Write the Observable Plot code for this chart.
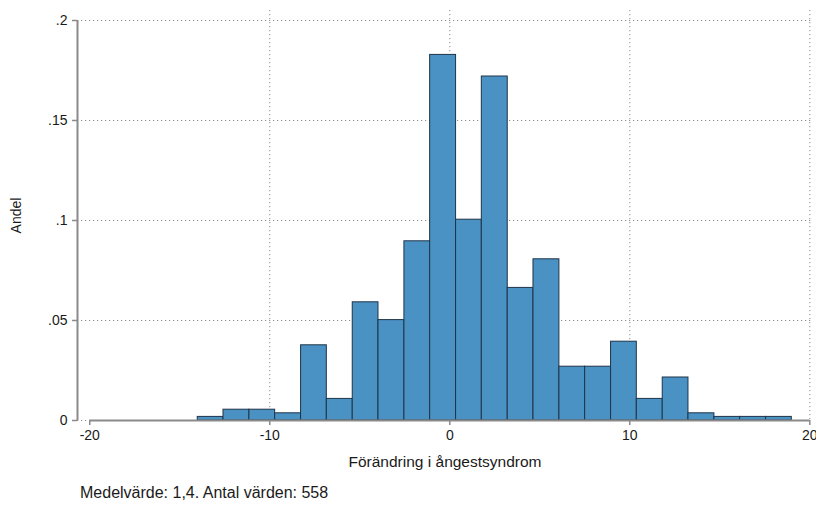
<!DOCTYPE html>
<html>
<head>
<meta charset="utf-8">
<script src="https://cdn.jsdelivr.net/npm/d3@7"></script>
<script src="https://cdn.jsdelivr.net/npm/@observablehq/plot@0.6"></script>
<style>
  html, body { margin: 0; padding: 0; background: #fff; }
  #chart svg { display: block; font-family: "Liberation Sans", Arial, sans-serif; }
  #caption { font-family: "Liberation Sans", Arial, sans-serif; font-size: 16px; color: #1a1a1a;
             padding-left: 80px; margin-top: 5px; line-height: 20px; }
</style>
</head>
<body>
<div id="chart"></div>
<div id="caption"></div>
<script>
// Bin edges (lower edges of each bin, plus final upper edge)
const binEdges = [-14, -12.57, -11.13, -9.70, -8.26, -6.83, -5.39, -3.96, -2.52, -1.09,
                  0.35, 1.78, 3.22, 4.65, 6.09, 7.52, 8.96, 10.39, 11.83, 13.26,
                  14.70, 16.13, 17.57, 19];
// Share (Andel) of observations per bin
const shares = [0.0018, 0.0054, 0.0054, 0.0036, 0.0376, 0.0108, 0.0591, 0.0502, 0.0896, 0.1828,
                0.1004, 0.1720, 0.0663, 0.0806, 0.0269, 0.0269, 0.0394, 0.0108, 0.0215, 0.0036,
                0.0018, 0.0018, 0.0018];
const xTicks = [-20, -10, 0, 10, 20];
const xGrid = [-10, 0, 10, 20];
const yTicks = [0, 0.05, 0.1, 0.15, 0.2];
const xLabel = "Förändring i ångestsyndrom";
const yLabel = "Andel";
const captionText = "Medelvärde: 1,4. Antal värden: 558";

const bins = shares.map((s, i) => ({x1: binEdges[i], x2: binEdges[i + 1], y: s}));

const xDomain = [-20.68, 20.15];
const yDomain = [0, 0.205];
const fmtY = d => d === 0 ? "0" : String(d).replace(/^0\./, ".");

const chart = Plot.plot({
  width: 816,
  height: 478,
  marginLeft: 77,
  marginRight: 4,
  marginTop: 10,
  marginBottom: 58,
  style: {fontFamily: "Liberation Sans, Arial, sans-serif", fontSize: "14px", color: "#1a1a1a", background: "#fff"},
  x: {domain: xDomain},
  y: {domain: yDomain},
  marks: [
    Plot.gridY(yTicks, {stroke: "#8c8c8c", strokeOpacity: 1, strokeDasharray: "1.2,2.8", strokeWidth: 1}),
    Plot.gridX(xGrid, {stroke: "#8c8c8c", strokeOpacity: 1, strokeDasharray: "1.2,2.8", strokeWidth: 1}),
    Plot.rectY(bins, {x1: "x1", x2: "x2", y: "y", fill: "#4a92c4", stroke: "#1e3448", strokeWidth: 1, inset: 0}),
    Plot.ruleY([0], {x1: xTicks[0], x2: xTicks[xTicks.length - 1], stroke: "#8a8a8a", strokeWidth: 2}),
    Plot.ruleX([xDomain[0]], {y1: yTicks[0], y2: yTicks[yTicks.length - 1], stroke: "#8a8a8a", strokeWidth: 2}),
    Plot.axisX(xTicks, {anchor: "bottom", tickSize: 5, tickPadding: 5, stroke: "#8a8a8a", strokeWidth: 1.5,
      fill: "#1a1a1a", fontSize: 14, tickFormat: d => String(d), label: null}),
    Plot.text([xLabel], {frameAnchor: "bottom", dy: 46, fontSize: 15.5, fill: "#1a1a1a"}),
    Plot.axisY(yTicks, {anchor: "left", tickSize: 5, tickPadding: 5, stroke: "#8a8a8a", strokeWidth: 1.5,
      fill: "#1a1a1a", fontSize: 14, tickFormat: fmtY,
      label: yLabel, labelAnchor: "center", labelOffset: 66, labelArrow: "none"})
  ]
});
document.getElementById("chart").appendChild(chart);
document.getElementById("caption").textContent = captionText;
</script>
</body>
</html>
